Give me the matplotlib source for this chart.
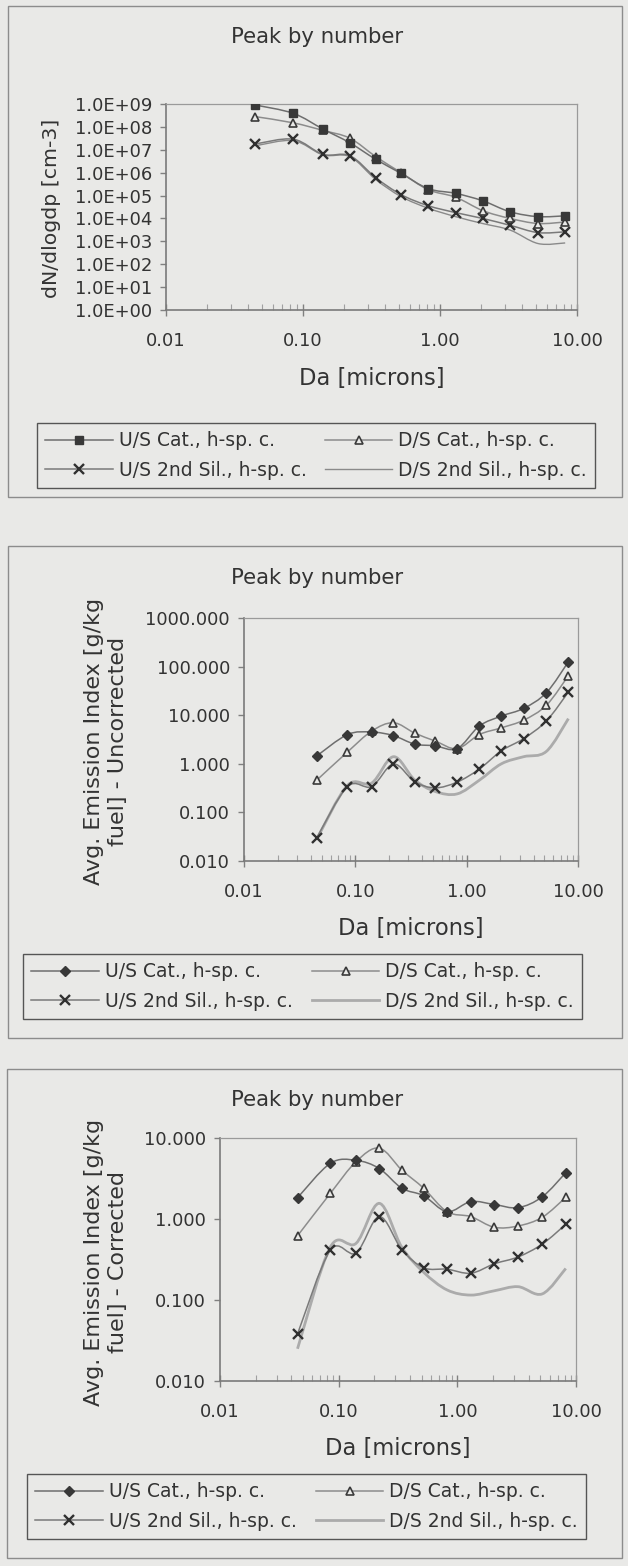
import numpy as np
import matplotlib
matplotlib.use("Agg")
import matplotlib.pyplot as plt
from matplotlib.path import Path
from matplotlib.patches import PathPatch, Rectangle
from matplotlib.lines import Line2D
from matplotlib.ticker import FixedLocator, LogLocator, NullLocator, NullFormatter

# ---- data -------------------------------------------------------------
da_microns = [0.045, 0.085, 0.14, 0.22, 0.34, 0.52, 0.82, 1.3, 2.05, 3.25, 5.2, 8.2]

series_names = ["U/S Cat., h-sp. c.", "D/S Cat., h-sp. c.",
                "U/S 2nd Sil., h-sp. c.", "D/S 2nd Sil., h-sp. c."]

# number concentration dN/dlogdp [cm-3]
us_cat_num = [9e8, 3.9e8, 8e7, 2e7, 3.8e6, 9.3e5, 2e5, 1.25e5, 5.9e4, 1.95e4, 1.2e4, 1.3e4]
ds_cat_num = [2.8e8, 1.5e8, 7e7, 3.2e7, 5e6, 1e6, 1.8e5, 8.5e4, 2.2e4, 1.0e4, 6e3, 7e3]
us_sil_num = [1.8e7, 2.9e7, 6.3e6, 5.5e6, 6e5, 1.1e5, 3.6e4, 1.8e4, 1e4, 5e3, 2.4e3, 2.6e3]
ds_sil_num = [1.5e7, 2.5e7, 6e6, 5e6, 5e5, 9e4, 2.8e4, 1.2e4, 6e3, 3.1e3, 8e2, 8.5e2]

# emission index, uncorrected [g/kg fuel]
us_cat_unc = [1.45, 4.0, 4.5, 3.8, 2.55, 2.35, 2.05, 6.0, 9.6, 13.8, 29, 126]
ds_cat_unc = [0.46, 1.75, 4.7, 7.0, 4.3, 2.95, 2.05, 4.0, 5.5, 7.9, 16, 65]
us_sil_unc = [0.030, 0.34, 0.34, 0.99, 0.43, 0.32, 0.42, 0.78, 1.85, 3.3, 7.6, 30]
ds_sil_unc = [0.028, 0.36, 0.40, 1.4, 0.47, 0.27, 0.24, 0.46, 1.0, 1.4, 1.8, 8.5]

# emission index, corrected [g/kg fuel]
us_cat_cor = [1.83, 4.86, 5.3, 4.2, 2.4, 1.94, 1.23, 1.64, 1.51, 1.38, 1.88, 3.73]
ds_cat_cor = [0.62, 2.07, 5.1, 7.5, 4.03, 2.4, 1.23, 1.07, 0.79, 0.82, 1.05, 1.85]
us_sil_cor = [0.038, 0.41, 0.38, 1.07, 0.42, 0.25, 0.24, 0.214, 0.28, 0.34, 0.49, 0.86]
ds_sil_cor = [0.025, 0.45, 0.50, 1.56, 0.45, 0.22, 0.133, 0.115, 0.130, 0.146, 0.119, 0.245]

x_tick_vals = [0.01, 0.1, 1, 10]
x_tick_labels = ["0.01", "0.10", "1.00", "10.00"]
y1_tick_labels = ["1.0E+%02d" % k for k in range(10)]
y2_tick_labels = ["0.010", "0.100", "1.000", "10.000", "100.000", "1000.000"]
y3_tick_labels = ["0.010", "0.100", "1.000", "10.000"]

# ---- style ------------------------------------------------------------
W, H = 628, 1566
BG = "#e9e9e7"
TXT = "#333333"
plt.rcParams["font.family"] = ["DejaVu Sans"]
plt.rcParams["text.color"] = TXT

fig = plt.figure(figsize=(W / 100, H / 100), dpi=100)
fig.patch.set_facecolor(BG)


def fx(px):
    return px / W


def fy(py):
    return 1 - py / H


def smooth_path(x, y):
    """Cubic Bezier path through the points, smoothed in log-log space."""
    lx, ly = np.log10(x), np.log10(y)
    n = len(lx)
    verts = [(lx[0], ly[0])]
    codes = [Path.MOVETO]
    for i in range(n - 1):
        a = max(i - 1, 0)
        b = min(i + 2, n - 1)
        c1 = (lx[i] + (lx[i + 1] - lx[a]) / 6, ly[i] + (ly[i + 1] - ly[a]) / 6)
        c2 = (lx[i + 1] - (lx[b] - lx[i]) / 6, ly[i + 1] - (ly[b] - ly[i]) / 6)
        verts += [c1, c2, (lx[i + 1], ly[i + 1])]
        codes += [Path.CURVE4] * 3
    return Path(10 ** np.array(verts), codes)


def style_axes(ax, ylim, yticks, ylabels):
    ax.set_facecolor(BG)
    ax.set_xscale("log")
    ax.set_yscale("log")
    ax.set_xlim(0.01, 10)
    ax.set_ylim(*ylim)
    ax.xaxis.set_major_locator(FixedLocator(x_tick_vals))
    ax.set_xticklabels(x_tick_labels)
    ax.xaxis.set_minor_locator(LogLocator(base=10, subs=np.arange(2, 10)))
    ax.xaxis.set_minor_formatter(NullFormatter())
    ax.yaxis.set_major_locator(FixedLocator(yticks))
    ax.set_yticklabels(ylabels)
    ax.yaxis.set_minor_locator(NullLocator())
    ax.tick_params(axis="x", which="major", direction="inout", length=8,
                   width=1, color="#808080", pad=12, labelsize=13,
                   labelcolor=TXT)
    ax.tick_params(axis="x", which="minor", direction="in", length=4,
                   width=0.8, color="#a0a0a0")
    ax.tick_params(axis="y", which="major", direction="out", length=4,
                   width=1, color="#808080", pad=6, labelsize=13,
                   labelcolor=TXT)
    for s in ("left", "bottom"):
        ax.spines[s].set_color("#7a7a7a")
        ax.spines[s].set_linewidth(1.2)
    for s in ("top", "right"):
        ax.spines[s].set_color("#9a9a9a")
        ax.spines[s].set_linewidth(0.9)


def draw_series(ax, y, line_color, lw, marker=None, ms=6, mfc=None,
                mec="#3a3a3a", mew=1.0, zorder=2):
    ax.add_patch(PathPatch(smooth_path(da_microns, y), fill=False,
                           edgecolor=line_color, lw=lw, zorder=zorder))
    if marker is not None:
        ax.plot(da_microns, y, linestyle="none", marker=marker, ms=ms,
                mfc=mfc, mec=mec, mew=mew, zorder=zorder + 0.5)
    return Line2D([], [], color=line_color, lw=lw, marker=marker, ms=ms,
                  mfc=mfc, mec=mec, mew=mew)


def panel(rect, ylim, yticks, ylabels, data, first_marker, ds_sil_style,
          title_y, xlabel_xy, ylabel_text, ylabel_xy, ylabel_size,
          legend_box, frame):
    ax = fig.add_axes([fx(rect[0]), fy(rect[3]), (rect[2] - rect[0]) / W,
                       (rect[3] - rect[1]) / H])
    style_axes(ax, ylim, yticks, ylabels)
    us_cat, ds_cat, us_sil, ds_sil = data
    h4 = draw_series(ax, ds_sil, ds_sil_style[0], ds_sil_style[1], zorder=2)
    h3 = draw_series(ax, us_sil, "#7a7a7a", 1.1, marker="x", ms=6.5,
                     mec="#303030", mew=1.7, zorder=3)
    h2 = draw_series(ax, ds_cat, "#8c8c8c", 1.1, marker="^", ms=6,
                     mfc=BG, mec="#3a3a3a", mew=1.2, zorder=4)
    h1 = draw_series(ax, us_cat, "#6e6e6e", 1.1, marker=first_marker,
                     ms=6 if first_marker == "s" else 5, mfc="#383838",
                     mec="#383838", mew=1.0, zorder=5)

    fig.text(fx(317), fy(title_y), "Peak by number", ha="center",
             va="center", fontsize=15.3)
    fig.text(fx(xlabel_xy[0]), fy(xlabel_xy[1]), "Da [microns]",
             ha="center", va="center", fontsize=16.3)
    fig.text(fx(ylabel_xy[0]), fy(ylabel_xy[1]), ylabel_text, ha="center",
             va="center", rotation=90, multialignment="center",
             fontsize=ylabel_size, linespacing=1.25)

    # legend rows read: U/S Cat | D/S Cat, then U/S Sil | D/S Sil
    x0, y0, x1, y1 = legend_box
    handles = [h1, h3, h2, h4]
    labels = [series_names[0], series_names[2], series_names[1], series_names[3]]
    leg = fig.legend(handles, labels, ncol=2,
                     loc="lower left", mode="expand",
                     bbox_to_anchor=(fx(x0), fy(y1), (x1 - x0) / W,
                                     (y1 - y0) / H),
                     bbox_transform=fig.transFigure, borderaxespad=0,
                     fontsize=13.5, handlelength=3.6, handletextpad=0.3,
                     borderpad=0.45, labelspacing=0.55, columnspacing=1.0,
                     fancybox=False, frameon=True)
    leg.get_frame().set_edgecolor("#555555")
    leg.get_frame().set_linewidth(1.0)
    leg.get_frame().set_facecolor(BG)
    leg.get_frame().set_alpha(1)
    for t in leg.get_texts():
        t.set_color(TXT)

    fx0, fy0, fx1, fy1 = frame
    fig.add_artist(Rectangle((fx(fx0), fy(fy1)), (fx1 - fx0) / W,
                             (fy1 - fy0) / H, transform=fig.transFigure,
                             fill=False, edgecolor="#8c8c8c", lw=1.0))
    return ax


panel(rect=(166, 104, 577, 310), ylim=(1, 1e9),
      yticks=[10.0 ** k for k in range(10)], ylabels=y1_tick_labels,
      data=(us_cat_num, ds_cat_num, us_sil_num, ds_sil_num),
      first_marker="s", ds_sil_style=("#8a8a8a", 1.0),
      title_y=37, xlabel_xy=(372, 378),
      ylabel_text="dN/dlogdp [cm-3]", ylabel_xy=(52, 208), ylabel_size=14.7,
      legend_box=(37, 422, 595, 488), frame=(8, 6, 622, 497))

panel(rect=(244, 618, 578, 861), ylim=(0.01, 1000),
      yticks=[10.0 ** k for k in range(-2, 4)], ylabels=y2_tick_labels,
      data=(us_cat_unc, ds_cat_unc, us_sil_unc, ds_sil_unc),
      first_marker="D", ds_sil_style=("#ababab", 2.0),
      title_y=578, xlabel_xy=(411, 928),
      ylabel_text="Avg. Emission Index [g/kg\nfuel] - Uncorrected",
      ylabel_xy=(106, 741), ylabel_size=16,
      legend_box=(23, 953, 582, 1019), frame=(8, 546, 622, 1038))

panel(rect=(220, 1138, 576, 1381), ylim=(0.01, 10),
      yticks=[10.0 ** k for k in range(-2, 2)], ylabels=y3_tick_labels,
      data=(us_cat_cor, ds_cat_cor, us_sil_cor, ds_sil_cor),
      first_marker="D", ds_sil_style=("#ababab", 2.0),
      title_y=1100, xlabel_xy=(398, 1448),
      ylabel_text="Avg. Emission Index [g/kg\nfuel] - Corrected",
      ylabel_xy=(106, 1262), ylabel_size=16,
      legend_box=(27, 1473, 586, 1539), frame=(7, 1069, 622, 1558))

fig.savefig("out.png", dpi=100, facecolor=BG)
